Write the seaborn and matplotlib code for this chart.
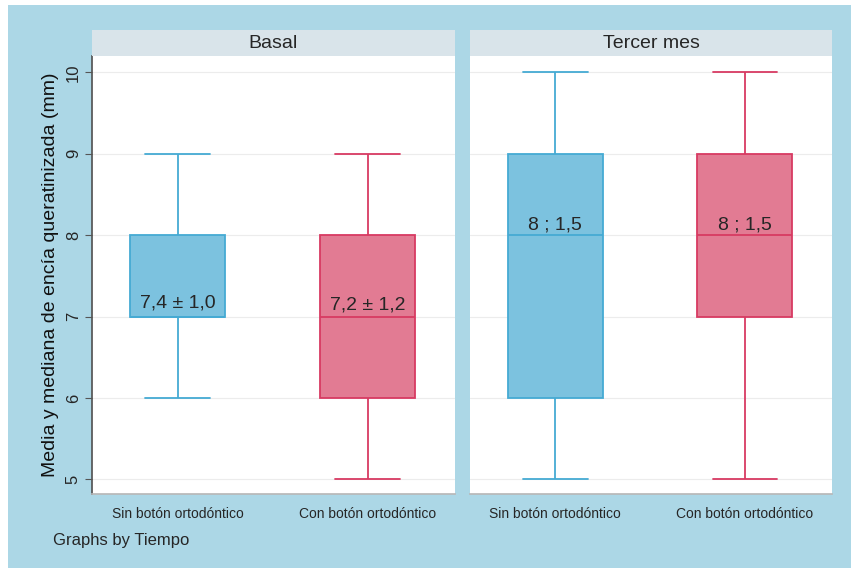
import matplotlib
matplotlib.use("Agg")
import matplotlib.pyplot as plt
from matplotlib.patches import Rectangle
import numpy as np
import pandas as pd
import seaborn as sns

# Five-number summaries (min, Q1, median, Q3, max) of keratinized gingiva, in mm
periodos = ["Basal", "Tercer mes"]
grupos = ["Sin botón ortodóntico", "Con botón ortodóntico"]
resumen = {
    ("Basal", "Sin botón ortodóntico"): [6, 7, 7, 8, 9],
    ("Basal", "Con botón ortodóntico"): [5, 6, 7, 8, 9],
    ("Tercer mes", "Sin botón ortodóntico"): [5, 6, 8, 9, 10],
    ("Tercer mes", "Con botón ortodóntico"): [5, 7, 8, 9, 10],
}
# Labels written inside each box, with the height where they sit
etiquetas = {
    ("Basal", "Sin botón ortodóntico"): ("7,4 ± 1,0", 7.17),
    ("Basal", "Con botón ortodóntico"): ("7,2 ± 1,2", 7.14),
    ("Tercer mes", "Sin botón ortodóntico"): ("8 ; 1,5", 8.12),
    ("Tercer mes", "Con botón ortodóntico"): ("8 ; 1,5", 8.12),
}
y_ticks = [5, 6, 7, 8, 9, 10]

relleno = {"Sin botón ortodóntico": "#7cc2df", "Con botón ortodóntico": "#e27b93"}
borde = {"Sin botón ortodóntico": "#45aad3", "Con botón ortodóntico": "#d83a62"}

filas = []
for (per, gru), vals in resumen.items():
    for v in vals:
        filas.append({"Tiempo": per, "Grupo": gru, "valor": v})
df = pd.DataFrame(filas)

sns.set_theme(style="white")
plt.rcParams["font.family"] = ["Liberation Sans", "DejaVu Sans"]

fondo = "#acd7e6"
fig = plt.figure(figsize=(8.51, 5.68), dpi=100, facecolor="white")
fig.patches.append(Rectangle((8 / 851, 0), 1, 1 - 5 / 568, transform=fig.transFigure,
                             facecolor=fondo, edgecolor="none", zorder=-10))

W, H = 851, 568
paneles = [(92, 455), (470, 832)]
top_px, bot_px, head_px = 56, 494, 30
ancho_caja, ancho_tope = 0.5, 0.34
texto = "#262626"

for i, (per, (x0, x1)) in enumerate(zip(periodos, paneles)):
    ax = fig.add_axes([x0 / W, 1 - bot_px / H, (x1 - x0) / W, (bot_px - top_px) / H])
    ax.set_facecolor("white")
    sub_per = df[df["Tiempo"] == per]
    for gru in grupos:
        sub = sub_per[sub_per["Grupo"] == gru]
        sns.boxplot(data=sub, x="Grupo", y="valor", order=grupos, ax=ax,
                    color=relleno[gru], linecolor=borde[gru], width=ancho_caja,
                    whis=(0, 100), linewidth=1.3, saturation=1,
                    boxprops=dict(facecolor=relleno[gru], edgecolor=borde[gru]),
                    medianprops=dict(color=borde[gru], linewidth=1.3),
                    whiskerprops=dict(color=borde[gru]),
                    capprops=dict(color=borde[gru]))
    # widen the whisker caps
    for ln in ax.lines:
        xd = np.asarray(ln.get_xdata(), dtype=float)
        yd = np.asarray(ln.get_ydata(), dtype=float)
        if len(xd) == 2 and yd[0] == yd[1]:
            w = abs(xd[1] - xd[0])
            if 0 < w < ancho_caja * 0.95:
                c = xd.mean()
                ln.set_xdata([c - ancho_tope / 2, c + ancho_tope / 2])
    for j, gru in enumerate(grupos):
        txt, yv = etiquetas[(per, gru)]
        ax.text(j, yv, txt, ha="center", va="center", fontsize=14, color=texto)

    ax.set_xlim(-0.45, 1.46)
    ax.set_ylim(4.82, 10.2)
    ax.set_yticks(y_ticks)
    ax.grid(axis="y", color="#ececec", linewidth=0.8)
    ax.set_axisbelow(True)
    ax.set_xlabel("")
    ax.tick_params(axis="x", length=0, labelsize=10, colors=texto, pad=9)
    for s in ["top", "right"]:
        ax.spines[s].set_visible(False)
    ax.spines["bottom"].set_color("#b8b8b8")
    if i == 0:
        ax.spines["left"].set_color("#555555")
        ax.tick_params(axis="y", length=5, width=0.8, color="#555555", left=True,
                       labelsize=12, labelcolor=texto, pad=3)
        for lab in ax.get_yticklabels():
            lab.set_rotation(90)
            lab.set_va("center")
        ax.set_ylabel("Media y mediana de encía queratinizada (mm)", fontsize=14,
                      color="#111111", labelpad=5)
    else:
        ax.spines["left"].set_visible(False)
        ax.set_yticklabels([])
        ax.tick_params(axis="y", length=0)
        ax.set_ylabel("")

    # panel header strip
    fig.patches.append(Rectangle((x0 / W, 1 - top_px / H), (x1 - x0) / W,
                                 (top_px - head_px) / H, transform=fig.transFigure,
                                 facecolor="#d9e4ea", edgecolor="none", zorder=1))
    fig.text((x0 + x1) / 2 / W, 1 - (top_px + head_px) / 2 / H, per, ha="center",
             va="center", fontsize=14, color=texto)

fig.text(53 / W, 1 - 540 / H, "Graphs by Tiempo", ha="left", va="center",
         fontsize=12, color=texto)

fig.savefig("out.png", dpi=100, facecolor=fig.get_facecolor())
